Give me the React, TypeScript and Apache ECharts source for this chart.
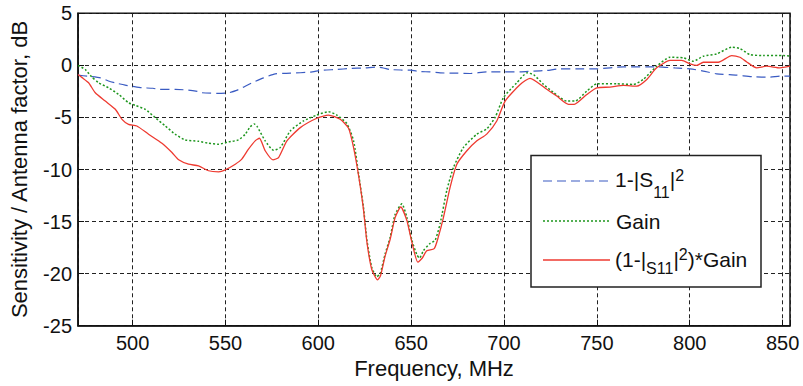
import React, { useEffect, useRef } from "react";
import * as echarts from "echarts";

// 1-|S11|^2
const s11Freq = [470.6, 476, 482.7, 487, 491, 496, 501, 505, 511, 514, 523, 530, 535, 537.3, 546, 551.7, 556, 559, 564, 570.5, 576.8, 585, 595.6, 602, 610, 617, 625, 631.5, 635, 638.7, 645, 649.5, 655, 660, 665.6, 675, 681.8, 690.7, 700, 708.7, 716, 723, 730, 740, 750, 764.3, 782.2, 792, 800.2, 807.3, 814.5, 825.3, 834.2, 843.2, 848.6, 854];
const s11Values = [-0.94, -1.05, -1.2, -1.5, -1.7, -1.9, -2.05, -2.15, -2.2, -2.31, -2.31, -2.37, -2.5, -2.63, -2.69, -2.63, -2.4, -2.15, -1.7, -1.2, -0.81, -0.75, -0.65, -0.46, -0.4, -0.3, -0.25, -0.17, -0.25, -0.4, -0.45, -0.46, -0.6, -0.62, -0.72, -0.75, -0.78, -0.62, -0.62, -0.62, -0.55, -0.49, -0.33, -0.33, -0.33, -0.14, -0.14, -0.25, -0.33, -0.55, -0.81, -0.94, -1.1, -1.13, -1.03, -1.03];

// Gain
const gainFreq = [470.6, 474.5, 478, 481.7, 487, 492.5, 497.8, 501.4, 506.8, 512.2, 517.6, 523, 528.3, 535.5, 540.9, 546.3, 551.7, 557, 560.6, 563.3, 565.5, 567, 571.4, 575.9, 579.5, 584.9, 592, 599.2, 605.5, 610, 615.4, 619, 621.7, 624.3, 626.2, 628.8, 631.5, 633.3, 636, 638.7, 641.4, 645, 647.7, 650.4, 653.1, 654.5, 656.6, 660.2, 662.9, 665.6, 669.2, 672.8, 678.1, 685.4, 690.7, 695.2, 699.7, 706.9, 712.5, 716, 721.3, 726.6, 733.8, 738.3, 744.6, 750, 760.7, 769.6, 775, 782.2, 789.4, 796.6, 802, 807.3, 814.5, 822.6, 827, 832.4, 839.6, 850.4, 854];
const gainValues = [0, -0.4, -1.1, -1.67, -2.15, -2.79, -3.59, -3.84, -4.22, -5.02, -5.82, -6.62, -7.16, -7.29, -7.48, -7.57, -7.35, -7.16, -6.62, -5.9, -5.62, -5.85, -7.25, -8.15, -7.9, -6.3, -5.34, -4.77, -4.45, -4.77, -5.6, -7.25, -10.44, -13.6, -16.8, -19.4, -20.3, -20.0, -18.1, -16.5, -14.3, -13.3, -14.6, -16.8, -18.2, -18.5, -17.8, -17.1, -16.8, -15.2, -12.0, -9.8, -7.9, -6.6, -6.1, -5.0, -3.1, -1.67, -0.72, -0.9, -1.83, -2.6, -3.43, -3.43, -2.47, -1.77, -1.77, -1.83, -1.35, -0.08, 0.78, 0.72, 0.4, 0.88, 1.1, 1.74, 1.62, 1.04, 0.94, 0.94, 0.9];

// (1-|S11|^2)*Gain
const prodFreq = [470.6, 473, 476.3, 479.9, 485.3, 490.7, 494.3, 497.8, 502.3, 508.6, 515.8, 521.2, 524.8, 530.1, 535.5, 540.9, 546.3, 549.9, 555.3, 558.8, 562.4, 566, 568.3, 571.4, 575.6, 578.6, 583.1, 590.3, 599.2, 605.5, 611.8, 616.3, 619, 621.7, 624.3, 626.2, 628.8, 631.9, 633.5, 636, 638.7, 641.4, 644.4, 647.7, 650.4, 653.6, 656, 658.4, 662.4, 664.6, 667.4, 671, 674.6, 680, 685.4, 690.7, 696.1, 700.6, 708.7, 714, 723, 728.4, 734.7, 737.8, 744.6, 750, 757.1, 764.3, 771.5, 776.9, 782.2, 789.4, 795.7, 800.2, 803.8, 807.3, 815.4, 822.6, 827, 830.7, 836, 841.4, 848.6, 854];
const prodValues = [-0.87, -1.2, -1.67, -2.63, -3.43, -4.22, -5.18, -5.66, -5.82, -6.61, -7.48, -8.37, -9.07, -9.49, -9.65, -10.12, -10.22, -10.03, -9.49, -9.01, -8.05, -7.25, -7.0, -8.2, -9.07, -8.85, -7.25, -5.98, -5.08, -4.77, -5.18, -6.04, -7.9, -10.6, -13.8, -17.0, -19.6, -20.6, -20.2, -18.3, -16.7, -14.6, -13.6, -14.9, -17.0, -18.9, -18.5, -17.8, -17.6, -16.5, -14.6, -11.7, -9.5, -8.2, -7.25, -6.6, -5.34, -3.43, -1.83, -1.25, -2.3, -2.95, -3.74, -3.74, -2.79, -2.15, -2.09, -1.93, -1.99, -1.35, -0.24, 0.47, 0.47, 0.14, -0.01, 0.3, 0.3, 0.94, 0.78, 0.33, -0.24, -0.08, -0.24, -0.08];

const xMin = 470.6;
const xMax = 854;
const yTicks = [-25, -20, -15, -10, -5, 0, 5];

const FONT = "'Liberation Sans', Arial, Helvetica, sans-serif";
const BLUE = "#3a5bc2";
const GREEN = "#1e961e";
const RED = "#ee3a30";
const INK = "#111";

const zip = (f: number[], v: number[]) => f.map((x, i) => [x, v[i]]);

export default function App() {
  const ref = useRef<HTMLDivElement>(null);
  useEffect(() => {
    if (!ref.current) return;
    const chart = echarts.init(ref.current, undefined, { renderer: "svg" });
    const m = { fontSize: 21, lineHeight: 21, verticalAlign: "middle", fontFamily: FONT, fill: INK };
    const rich1 = {
      m,
      sub: { fontSize: 16, lineHeight: 16, padding: [26, 0, 0, 0], verticalAlign: "middle", fontFamily: FONT, fill: INK },
      sup: { fontSize: 16, lineHeight: 16, padding: [0, 0, 8, 0], verticalAlign: "middle", fontFamily: FONT, fill: INK },
    };
    const rich3 = {
      m,
      sub: { fontSize: 16, lineHeight: 16, padding: [18, 0, 0, 0], verticalAlign: "middle", fontFamily: FONT, fill: INK },
      sup: { fontSize: 16, lineHeight: 16, padding: [0, 0, 9, 0], verticalAlign: "middle", fontFamily: FONT, fill: INK },
    };
    const textBase = {
      fontSize: 21,
      fontFamily: FONT,
      fill: INK,
      align: "left",
      verticalAlign: "middle",
      textAlign: "left",
      textVerticalAlign: "middle",
    };
    chart.setOption({
      animation: false,
      backgroundColor: "#fff",
      grid: {
        left: 77.7,
        right: 13,
        top: 13.3,
        bottom: 60.3,
        show: true,
        borderColor: INK,
        borderWidth: 1.5,
        backgroundColor: "transparent",
      },
      xAxis: {
        type: "value",
        min: xMin,
        max: xMax,
        splitNumber: 8,
        minInterval: 50,
        maxInterval: 50,
        name: "Frequency, MHz",
        nameLocation: "middle",
        nameGap: 32,
        nameTextStyle: { fontSize: 22, fontFamily: FONT, color: INK },
        axisLine: { show: true, onZero: false, lineStyle: { color: INK, width: 1.5 } },
        axisTick: { show: true, inside: true, length: 6, lineStyle: { color: INK } },
        axisLabel: {
          fontSize: 20,
          fontFamily: FONT,
          color: INK,
          margin: 7,
          formatter: (v: number) => (Math.abs(v - Math.round(v / 50) * 50) < 1e-6 ? String(Math.round(v)) : ""),
        },
        splitLine: { show: true, lineStyle: { color: "#222", width: 1, type: [4, 3] } },
      },
      yAxis: {
        type: "value",
        min: yTicks[0],
        max: yTicks[yTicks.length - 1],
        interval: 5,
        name: "Sensitivity / Antenna factor, dB",
        nameLocation: "middle",
        nameGap: 48,
        nameTextStyle: { fontSize: 22, fontFamily: FONT, color: INK },
        axisLine: { show: true, onZero: false, lineStyle: { color: INK, width: 1.5 } },
        axisTick: { show: true, inside: true, length: 6, lineStyle: { color: INK } },
        axisLabel: { fontSize: 20, fontFamily: FONT, color: INK, margin: 6 },
        splitLine: { show: true, lineStyle: { color: "#222", width: 1, type: [4, 3] } },
      },
      series: [
        {
          name: "1-|S11|2",
          type: "line",
          data: zip(s11Freq, s11Values),
          showSymbol: false,
          symbol: "none",
          smooth: 0.2,
          lineStyle: { color: BLUE, width: 1.2, type: [9, 5] },
          z: 3,
        },
        {
          name: "Gain",
          type: "line",
          data: zip(gainFreq, gainValues),
          showSymbol: false,
          symbol: "none",
          smooth: 0.2,
          lineStyle: { color: GREEN, width: 1.5, type: [2, 2] },
          z: 4,
        },
        {
          name: "(1-|S11|2)*Gain",
          type: "line",
          data: zip(prodFreq, prodValues),
          showSymbol: false,
          symbol: "none",
          smooth: 0.2,
          lineStyle: { color: RED, width: 1.3 },
          z: 5,
        },
      ],
      graphic: [
        {
          type: "rect",
          z: 100,
          shape: { x: 531, y: 155.5, width: 230, height: 131.5 },
          style: { fill: "#fff", stroke: "#222", lineWidth: 1.5 },
        },
        {
          type: "line",
          z: 101,
          shape: { x1: 543, y1: 181, x2: 610, y2: 181 },
          style: { stroke: BLUE, lineWidth: 1.2, lineDash: [9, 5] },
        },
        {
          type: "line",
          z: 101,
          shape: { x1: 543, y1: 221, x2: 610, y2: 221 },
          style: { stroke: GREEN, lineWidth: 1.5, lineDash: [2, 2] },
        },
        {
          type: "line",
          z: 101,
          shape: { x1: 543, y1: 260, x2: 610, y2: 260 },
          style: { stroke: RED, lineWidth: 1.3 },
        },
        {
          type: "text",
          z: 101,
          x: 615,
          y: 179,
          style: { ...textBase, text: "{m|1-|S}{sub|11}{m||}{sup|2}", rich: rich1 },
        },
        {
          type: "text",
          z: 101,
          x: 616,
          y: 221.5,
          style: { ...textBase, text: "Gain" },
        },
        {
          type: "text",
          z: 101,
          x: 615,
          y: 259,
          style: { ...textBase, text: "{m|(1-|}{sub|S11}{m||}{sup|2}{m|)*Gain}", rich: rich3 },
        },
      ],
    });
    return () => chart.dispose();
  }, []);
  return (
    <div
      ref={ref}
      style={{ position: "fixed", left: 0, top: 0, width: 803, height: 386, background: "#fff" }}
    />
  );
}
